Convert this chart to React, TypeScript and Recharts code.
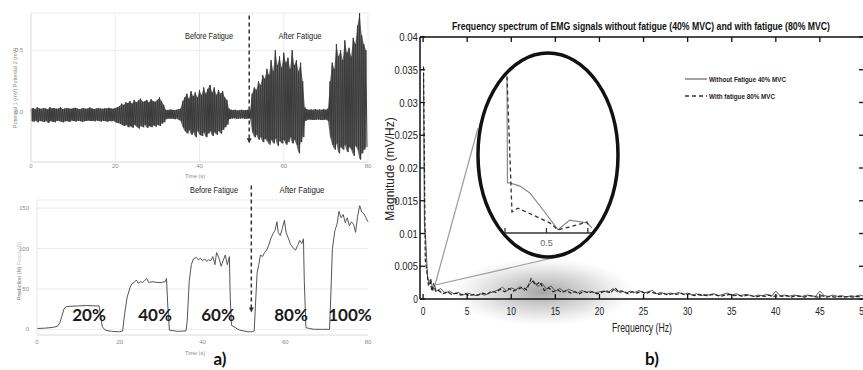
import { Area, CartesianGrid, ComposedChart, Line, LineChart, ReferenceLine, XAxis, YAxis } from "recharts";

const SANS = '"Liberation Sans", Arial, sans-serif';
const BOLD = 'Lato, "Open Sans", sans-serif';

// a) top: EMG envelope, one upper / lower peak every 0.5 s (0 .. 79.5 s)
const emgUpper = [
  0.03, 0.035, 0.025, 0.04, 0.03, 0.028, 0.035, 0.03, 0.025, 0.04,
  0.03, 0.035, 0.028, 0.03, 0.04, 0.025, 0.03, 0.035, 0.03, 0.028,
  0.032, 0.036, 0.03, 0.025, 0.03, 0.034, 0.028, 0.03, 0.038, 0.03,
  0.026, 0.03, 0.035, 0.03, 0.028, 0.032, 0.03, 0.036, 0.03, 0.028,
  0.034, 0.04,
  0.05, 0.07, 0.06, 0.08, 0.075, 0.09, 0.07, 0.1, 0.08, 0.095,
  0.11, 0.085, 0.09, 0.1, 0.08, 0.105, 0.09, 0.085, 0.1, 0.12,
  0.09, 0.06,
  0.02, 0.018, 0.022, 0.02, 0.018, 0.02, 0.025, 0.03,
  0.09, 0.12, 0.15, 0.11, 0.17, 0.13, 0.16, 0.12, 0.18, 0.14,
  0.2, 0.15, 0.19, 0.22, 0.16, 0.2, 0.14, 0.18, 0.15, 0.17,
  0.12, 0.1,
  0.03, 0.02, 0.018, 0.02, 0.015, 0.018, 0.02, 0.016, 0.018, 0.02, 0.015,
  0.15, 0.2, 0.18, 0.25, 0.22, 0.3, 0.27, 0.35, 0.3, 0.42,
  0.33, 0.5, 0.38, 0.45, 0.36, 0.48, 0.4, 0.44, 0.35, 0.5,
  0.38, 0.42, 0.33, 0.4, 0.25,
  0.04, 0.025, 0.02, 0.022, 0.02, 0.025, 0.02, 0.022, 0.02, 0.025, 0.02, 0.03,
  0.25, 0.4, 0.35, 0.55, 0.45, 0.5, 0.42, 0.58, 0.48, 0.52,
  0.45, 0.6, 0.55, 0.7, 0.8, 0.62, 0.55, 0.5,
];
const emgLower = [
  -0.07, -0.075, -0.065, -0.08, -0.07, -0.072, -0.078, -0.068, -0.085, -0.07,
  -0.075, -0.08, -0.07, -0.068, -0.076, -0.08, -0.072, -0.07, -0.078, -0.066,
  -0.07, -0.074, -0.068, -0.07, -0.076, -0.072, -0.07, -0.065, -0.07, -0.068,
  -0.072, -0.066, -0.07, -0.074, -0.068, -0.07, -0.075, -0.07, -0.072, -0.068,
  -0.08, -0.085,
  -0.09, -0.1, -0.11, -0.1, -0.12, -0.11, -0.125, -0.1, -0.115, -0.13,
  -0.11, -0.12, -0.1, -0.125, -0.11, -0.12, -0.105, -0.115, -0.1, -0.11,
  -0.09, -0.08,
  -0.055, -0.05, -0.052, -0.05, -0.055, -0.05, -0.06, -0.07,
  -0.12, -0.15, -0.17, -0.14, -0.18, -0.16, -0.2, -0.15, -0.18, -0.19,
  -0.16, -0.2, -0.17, -0.15, -0.19, -0.16, -0.18, -0.15, -0.17, -0.14,
  -0.12, -0.1,
  -0.055, -0.05, -0.048, -0.05, -0.052, -0.05, -0.048, -0.05, -0.052, -0.05, -0.05,
  -0.16, -0.2, -0.18, -0.22, -0.2, -0.24, -0.21, -0.23, -0.26, -0.22,
  -0.25, -0.21, -0.27, -0.23, -0.25, -0.22, -0.26, -0.24, -0.2, -0.25,
  -0.22, -0.26, -0.33, -0.24, -0.2,
  -0.07, -0.06, -0.058, -0.06, -0.062, -0.06, -0.058, -0.06, -0.062, -0.06, -0.058, -0.07,
  -0.2, -0.26, -0.3, -0.25, -0.33, -0.28, -0.3, -0.26, -0.32, -0.28,
  -0.3, -0.35, -0.27, -0.3, -0.38, -0.33, -0.3, -0.28,
];
const timeTicks = [0, 20, 40, 60, 80];
const emgTicks = [0, 0.5];

// a) bottom: force prediction (N)
const forceTime = [
  0, 2, 4, 5, 5.5, 6, 6.5, 7, 8, 10,
  12, 14, 15, 15.3, 15.8, 16.5, 18, 20, 20.7, 21.2,
  21.8, 22.5, 23, 23.5, 24, 24.5, 25, 25.5, 26, 26.5,
  27, 28, 29, 30, 31, 31.3, 31.6, 32, 34, 36,
  36.3, 36.8, 37.3, 37.8, 38.5, 39, 39.5, 40, 40.5, 41,
  41.5, 42, 42.5, 43, 43.4, 44, 44.5, 45, 45.5, 46,
  46.5, 46.7, 47, 48, 48.5, 49, 50, 51, 52, 52.5,
  52.8, 53.2, 53.6, 54, 54.5, 55, 55.5, 56, 56.5, 57,
  57.5, 58, 58.3, 58.8, 59.3, 59.8, 60.2, 60.8, 61.3, 62,
  62.5, 63, 63.5, 64, 64.4, 64.6, 65, 67, 69, 70.7,
  71, 71.4, 72, 72.5, 73, 73.5, 74, 74.5, 75, 75.5,
  76, 76.5, 77, 77.5, 78, 78.5, 79, 79.5, 80,
];
const forceValue = [
  1, 1.5, 2.5, 4, 8, 16, 25, 28, 28.5, 29,
  29.5, 29, 29, 20, 3, -1, -2.5, -3, -2, 20,
  40, 52, 57, 58, 61, 57, 59, 58, 60, 63,
  58, 59, 58, 58, 59, 63, 30, -1, -2.5, -2,
  10, 60, 80, 87, 89, 86, 88, 85, 87, 84,
  86, 85, 90, 80, 95, 88, 78, 85, 92, 80,
  90, 40, 5, 2, 0, -1, -2, -3, -3, -2,
  30, 70, 80, 92, 90, 95, 98, 104, 112, 118,
  122, 133, 120, 116, 125, 135, 120, 112, 105, 100,
  98, 104, 110, 106, 112, 60, 2, 0, 0, 0,
  40, 100, 122, 130, 146, 138, 142, 132, 138, 128,
  133, 130, 120, 140, 153, 145, 143, 138, 133,
];
const forceTicks = [0, 50, 100, 150];
const levelLabels = ["20%", "40%", "60%", "80%", "100%"];

// b) spectrum: low-frequency head, then 0.5 Hz steps (solid from 1.5, dashed from 1.75)
const solidHeadF = [0.05, 0.15, 0.3, 0.5, 0.7, 0.9, 1.1, 1.3];
const solidHeadV = [0.034, 0.0115, 0.009, 0.0035, 0.0022, 0.003, 0.0013, 0.0021];
const dashedHeadF = [0.05, 0.25, 0.45, 0.6, 0.8, 1.0, 1.2, 1.4];
const dashedHeadV = [0.0355, 0.006, 0.004, 0.0022, 0.0028, 0.0012, 0.0024, 0.0012];
const solidMag = [
  0.0012, 0.0016, 0.0009, 0.0012, 0.0008, 0.001, 0.0006, 0.0009, 0.0007, 0.0005,
  0.0008, 0.0006, 0.0009, 0.0011, 0.0014, 0.0018, 0.0012, 0.0017, 0.0014, 0.0019,
  0.0013, 0.0022, 0.0028, 0.0019, 0.0024, 0.0015, 0.002, 0.0012, 0.0016, 0.0011,
  0.0015, 0.0012, 0.0009, 0.0013, 0.001, 0.0012, 0.0009, 0.0011, 0.0012, 0.001,
  0.0016, 0.0011, 0.0013, 0.0009, 0.0012, 0.001, 0.0013, 0.0009, 0.0011, 0.0013,
  0.0008, 0.001, 0.0007, 0.0009, 0.0008, 0.001, 0.0007, 0.0009, 0.0006, 0.0008,
  0.0005, 0.0007, 0.0006, 0.0008, 0.0005, 0.0007, 0.0009, 0.0006, 0.0008, 0.0005,
  0.0007, 0.0006, 0.0004, 0.0006, 0.0005, 0.0007, 0.0004, 0.0012, 0.0005, 0.0006,
  0.0004, 0.0006, 0.0005, 0.0004, 0.0006, 0.0005, 0.0004, 0.0012, 0.0005, 0.0004,
  0.0006, 0.0004, 0.0005, 0.0003, 0.0005, 0.0004, 0.0006, 0.0004,
];
const dashedMag = [
  0.0013, 0.0008, 0.0011, 0.0007, 0.0009, 0.0006, 0.0008, 0.0005, 0.0007, 0.0006,
  0.0009, 0.0007, 0.0012, 0.001, 0.0015, 0.0011, 0.0016, 0.0012, 0.0015, 0.0018,
  0.0014, 0.0031, 0.0021, 0.0026, 0.0013, 0.0017, 0.0011, 0.0014, 0.001, 0.0013,
  0.0009, 0.0011, 0.0008, 0.0012, 0.0009, 0.0011, 0.0008, 0.001, 0.0013, 0.0009,
  0.0017, 0.001, 0.0012, 0.0008, 0.0011, 0.0009, 0.0012, 0.0008, 0.0011, 0.0009,
  0.0007, 0.0009, 0.0006, 0.0008, 0.0007, 0.0009, 0.0006, 0.0008, 0.0005, 0.0007,
  0.0006, 0.0005, 0.0007, 0.0006, 0.0004, 0.0006, 0.0007, 0.0005, 0.0006, 0.0004,
  0.0006, 0.0005, 0.0003, 0.0005, 0.0004, 0.0006, 0.0004, 0.0005, 0.0004, 0.0005,
  0.0003, 0.0005, 0.0004, 0.0003, 0.0005, 0.0004, 0.0003, 0.0005, 0.0003, 0.0004,
  0.0003, 0.0004, 0.0003, 0.0004, 0.0003, 0.0004, 0.0003,
];
const freqTicks = [0, 5, 10, 15, 20, 25, 30, 35, 40, 45, 50];
const magTicks = [0, 0.005, 0.01, 0.015, 0.02, 0.025, 0.03, 0.035, 0.04];

// zoomed inset (0 .. 1 Hz)
const insetSolidF = [0.024, 0.03, 0.06, 0.18, 0.3, 0.46, 0.64, 0.78, 0.99, 1.05];
const insetSolidV = [0.034, 0.0109, 0.0109, 0.0102, 0.0087, 0.005, 0.0007, 0.0028, 0.0022, 0.0011];
const insetDashedF = [0.024, 0.084, 0.157, 0.386, 0.54, 0.64, 0.78, 0.99, 1.02];
const insetDashedV = [0.034, 0.0046, 0.0054, 0.0035, 0.0022, 0.0007, 0.0013, 0.0024, 0.0013];

const emgData = emgUpper.flatMap((u, i) => [
  { t: i * 0.5, v: u, band: [emgLower[i], u] },
  { t: i * 0.5 + 0.25, v: emgLower[i] },
]);
const forceData = forceTime.map((t, i) => ({ t, v: forceValue[i] }));
const solidData = [
  ...solidHeadF.map((f, i) => ({ f, m: solidHeadV[i] })),
  ...solidMag.map((m, i) => ({ f: 1.5 + i * 0.5, m })),
];
const dashedData = [
  ...dashedHeadF.map((f, i) => ({ f, m: dashedHeadV[i] })),
  ...dashedMag.map((m, i) => ({ f: 1.75 + i * 0.5, m })),
];
const insetSolid = insetSolidF.map((f, i) => ({ f, m: insetSolidV[i] }));
const insetDashed = insetDashedF.map((f, i) => ({ f, m: insetDashedV[i] }));

const smallTick = { fontSize: 6, fill: "#8a8a8a", fontFamily: SANS };

// narrow (Arial Narrow-like) tick text
const NarrowText = ({ x, y, anchor, s }: any) => (
  <text x={x} y={y} textAnchor={anchor} fontSize={11} fontFamily={SANS} fill="#222" textLength={String(s).length * 4.7} lengthAdjust="spacingAndGlyphs">{s}</text>
);
const BottomTick = ({ x, y, payload }: any) => (
  <g>
    <line x1={x} y1={y} x2={x} y2={y - 5} stroke="#111" strokeWidth={1.3} />
    <NarrowText x={x} y={y + 16} anchor="middle" s={payload.value} />
  </g>
);
const TopTick = ({ x, y }: any) => <line x1={x} y1={y} x2={x} y2={y + 5} stroke="#111" strokeWidth={1.3} />;
const LeftTick = ({ x, y, payload }: any) => (
  <g>
    <line x1={x} y1={y} x2={x + 5} y2={y} stroke="#111" strokeWidth={1.3} />
    <NarrowText x={x - 2} y={y + 4} anchor="end" s={payload.value} />
  </g>
);
const RightTick = ({ x, y }: any) => <line x1={x} y1={y} x2={x - 5} y2={y} stroke="#111" strokeWidth={1.3} />;
const InsetTick = ({ x, y, payload }: any) => (
  <g>
    <line x1={x} y1={y} x2={x} y2={y - 5} stroke="#333" strokeWidth={1.3} />
    {payload.value === 0.5 && (
      <text x={x} y={y + 13} textAnchor="middle" fontSize={9} fontFamily={SANS} fill="#666">0.5</text>
    )}
  </g>
);
const ArrowLine = (p: any) => (
  <g>
    <line x1={p.x1} y1={p.y1} x2={p.x2} y2={p.y2} stroke="#333" strokeWidth={1.5} strokeDasharray="4 3" />
    <path d={`M${p.x2 - 2.5},${p.y2 - 4}L${p.x2 + 2.5},${p.y2 - 4}L${p.x2},${p.y2 + 1}Z`} fill="#333" />
  </g>
);

export default function App() {
  return (
    <div style={{ position: "absolute", left: 0, top: 0, width: 863, height: 370, overflow: "hidden", background: "#fff" }}>
      <svg width={863} height={370} style={{ position: "absolute", left: 0, top: 0 }}>
        <defs>
          <radialGradient id="shade">
            <stop offset="0%" stopColor="#666" stopOpacity={0.6} />
            <stop offset="55%" stopColor="#888" stopOpacity={0.3} />
            <stop offset="100%" stopColor="#aaa" stopOpacity={0} />
          </radialGradient>
        </defs>
        <ellipse cx={543} cy={292} rx={92} ry={34} fill="url(#shade)" />
      </svg>

      <div style={{ position: "absolute", left: 0, top: 0 }}>
        <ComposedChart width={380} height={180} data={emgData} margin={{ top: 13, right: 12, bottom: 0, left: 0 }}>
          <CartesianGrid stroke="#ececec" />
          <XAxis dataKey="t" type="number" domain={[0, 80]} ticks={timeTicks} height={18} tick={smallTick} tickSize={0} tickMargin={2} tickLine={false} axisLine={{ stroke: "#e4e4e4" }} />
          <YAxis type="number" domain={[-0.4, 0.8]} ticks={emgTicks} width={31} tick={smallTick} tickFormatter={(v: number) => v.toFixed(1)} tickLine={false} axisLine={{ stroke: "#e4e4e4" }} />
          <Area dataKey="band" stroke="none" fill="#4a4a4a" fillOpacity={0.85} connectNulls isAnimationActive={false} />
          <Line dataKey="v" stroke="#3a3a3a" strokeWidth={1} dot={false} isAnimationActive={false} />
          <ReferenceLine segment={[{ x: 51.8, y: 0.78 }, { x: 51.8, y: -0.24 }]} ifOverflow="visible" shape={ArrowLine} />
        </ComposedChart>
      </div>

      <div style={{ position: "absolute", left: 0, top: 180 }}>
        <LineChart width={380} height={175} data={forceData} margin={{ top: 20, right: 12, bottom: 0, left: 0 }}>
          <CartesianGrid stroke="#ececec" vertical={false} />
          <XAxis dataKey="t" type="number" domain={[0, 80]} ticks={timeTicks} height={20} tick={smallTick} tickSize={0} tickMargin={5} tickLine={false} axisLine={{ stroke: "#e4e4e4" }} />
          <YAxis type="number" domain={[-7, 160]} ticks={forceTicks} width={37} tick={smallTick} tickLine={false} axisLine={{ stroke: "#e4e4e4" }} />
          <Line dataKey="v" stroke="#555" strokeWidth={1} dot={false} isAnimationActive={false} />
          <ReferenceLine segment={[{ x: 51.8, y: 178 }, { x: 51.8, y: 22 }]} ifOverflow="visible" shape={ArrowLine} />
        </LineChart>
      </div>

      <div style={{ position: "absolute", left: 380, top: 0 }}>
        <LineChart width={500} height={340} margin={{ top: 36, right: 15, bottom: 0, left: 0 }}>
          <XAxis dataKey="f" type="number" domain={[-0.35, 50]} allowDataOverflow ticks={freqTicks} height={41} tick={BottomTick} tickSize={0} tickMargin={0} tickLine={false} axisLine={{ stroke: "#111", strokeWidth: 1.5 }} />
          <XAxis xAxisId="top" orientation="top" dataKey="f" type="number" domain={[-0.35, 50]} allowDataOverflow ticks={freqTicks} height={1} tick={TopTick} tickSize={0} tickMargin={0} tickLine={false} axisLine={{ stroke: "#111", strokeWidth: 1.5 }} />
          <YAxis type="number" domain={[0, 0.04]} allowDataOverflow ticks={magTicks} width={40} tick={LeftTick} tickSize={0} tickMargin={0} tickLine={false} axisLine={{ stroke: "#111", strokeWidth: 1.5 }} />
          <YAxis yAxisId="right" orientation="right" type="number" domain={[0, 0.04]} allowDataOverflow ticks={magTicks} width={1} tick={RightTick} tickSize={0} tickMargin={0} tickLine={false} axisLine={{ stroke: "#111", strokeWidth: 1.5 }} />
          <Line data={solidData} dataKey="m" stroke="#555" strokeWidth={1} dot={false} isAnimationActive={false} />
          <Line data={dashedData} dataKey="m" stroke="#222" strokeWidth={1.2} strokeDasharray="4 2" dot={false} isAnimationActive={false} />
          <Line data={solidData} dataKey="m" xAxisId="top" yAxisId="right" stroke="none" dot={false} legendType="none" isAnimationActive={false} />
        </LineChart>
      </div>

      <div style={{ position: "absolute", left: 500, top: 60 }}>
        <LineChart width={100} height={200} margin={{ top: 12, right: 8, bottom: 0, left: 5 }}>
          <XAxis dataKey="f" type="number" domain={[0, 1.05]} allowDataOverflow ticks={[0, 0.5, 1]} height={27} tick={InsetTick} tickSize={0} tickMargin={0} tickLine={false} axisLine={{ stroke: "#333", strokeWidth: 1.3 }} />
          <YAxis hide type="number" domain={[0, 0.035]} allowDataOverflow />
          <Line data={insetSolid} dataKey="m" stroke="#888" strokeWidth={1.2} dot={false} isAnimationActive={false} />
          <Line data={insetDashed} dataKey="m" stroke="#333" strokeWidth={1.3} strokeDasharray="4 3" dot={false} isAnimationActive={false} />
        </LineChart>
      </div>

      <svg width={863} height={370} style={{ position: "absolute", left: 0, top: 0, pointerEvents: "none" }}>
        {/* panel a) annotations */}
        <g fontFamily={SANS} fontSize={9} fill="#222" textAnchor="middle">
          <text x={209} y={39} textLength={48} lengthAdjust="spacingAndGlyphs">Before Fatigue</text>
          <text x={300} y={39} textLength={43} lengthAdjust="spacingAndGlyphs">After Fatigue</text>
          <text x={214} y={193} textLength={48} lengthAdjust="spacingAndGlyphs">Before Fatigue</text>
          <text x={302} y={193} textLength={45} lengthAdjust="spacingAndGlyphs">After Fatigue</text>
        </g>
        <g fontFamily={BOLD} fontWeight={700} fontSize={17} fill="#1a1a1a" textAnchor="middle">
          {levelLabels.map((l, i) => (
            <text key={l} x={[89, 155, 218, 291, 350][i]} y={321}>{l}</text>
          ))}
        </g>
        <g fontFamily={SANS} fontSize={5.5} fill="#8a8a8a" textAnchor="middle">
          <text x={195} y={178}>Time (s)</text>
          <text x={195} y={355}>Time (s)</text>
          <text transform="translate(17 88) rotate(-90)">Potential 1 (mV)   Potential 2 (mV)</text>
          <text transform="translate(21 271) rotate(-90)">
            <tspan fill="#777">Prediction (N)</tspan>
            <tspan fill="#c4c4c4"> Force (N)</tspan>
          </text>
        </g>
        <text x={220} y={365} fontFamily={BOLD} fontWeight={700} fontSize={17} textAnchor="middle" fill="#111">a)</text>

        {/* panel b) annotations */}
        <text x={641} y={30} fontFamily={SANS} fontWeight={700} fontSize={11} textAnchor="middle" fill="#111" textLength={378} lengthAdjust="spacingAndGlyphs">
          Frequency spectrum of EMG signals without fatigue (40% MVC) and with fatigue (80% MVC)
        </text>
        <text transform="translate(394 169) rotate(-90)" fontFamily={SANS} fontSize={12} textAnchor="middle" fill="#222">Magnitude (mV/Hz)</text>
        <text x={642} y={332} fontFamily={SANS} fontSize={12} textAnchor="middle" fill="#222" textLength={60} lengthAdjust="spacingAndGlyphs">Frequency (Hz)</text>
        <line x1={685} y1={79} x2={707} y2={79} stroke="#666" strokeWidth={1.2} />
        <line x1={685} y1={96} x2={707} y2={96} stroke="#333" strokeWidth={1.4} strokeDasharray="4 3" />
        <g fontFamily={SANS} fontWeight={700} fontSize={8} fill="#222">
          <text x={709} y={82} textLength={77} lengthAdjust="spacingAndGlyphs">Without Fatigue 40% MVC</text>
          <text x={709} y={99} textLength={66} lengthAdjust="spacingAndGlyphs">With fatigue 80% MVC</text>
        </g>
        <line x1={435} y1={285} x2={478} y2={128} stroke="#9a9a9a" strokeWidth={1.2} />
        <line x1={435} y1={285} x2={557} y2={257} stroke="#9a9a9a" strokeWidth={1.2} />
        <ellipse cx={548} cy={155} rx={70} ry={102} fill="none" stroke="#111" strokeWidth={3.5} />
        <text x={652} y={365} fontFamily={BOLD} fontWeight={700} fontSize={17} textAnchor="middle" fill="#111">b)</text>
      </svg>
    </div>
  );
}
